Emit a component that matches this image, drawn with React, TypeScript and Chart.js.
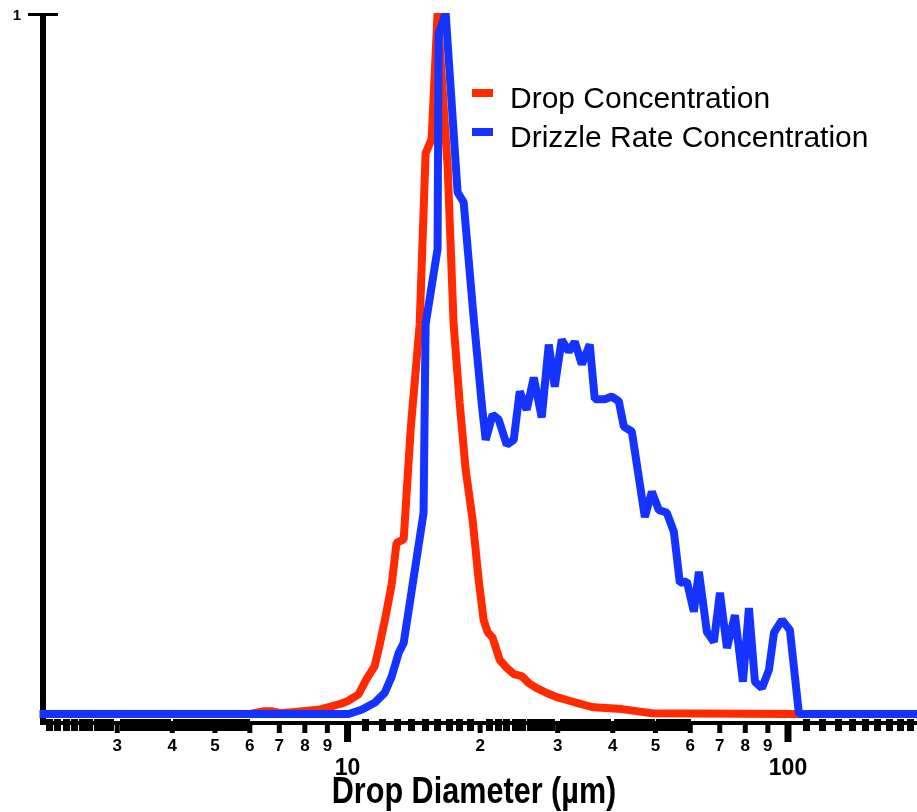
import React, { useEffect, useRef } from 'react';
import { Chart, registerables } from 'chart.js';

Chart.register(...registerables);

// ---- Data ----
const dropDiameter = [2.0, 6.0, 6.48, 6.72, 7.08, 7.58, 8.59, 9.2, 9.69, 10.05, 10.59, 11.05, 11.52, 11.82, 12.2, 12.59, 12.92, 13.41, 13.91, 14.58, 15.04, 15.52, 16.01, 16.88, 17.41, 17.97, 18.54, 19.23, 19.85, 20.37, 20.8, 21.35, 22.16, 22.98, 23.84, 24.86, 25.79, 26.89, 28.34, 29.85, 31.47, 33.15, 35.85, 37.78, 41.95, 46.58, 49.08, 102, 200];
const dropConcentration = [0, 0, 0.004, 0.004, 0.001, 0.003, 0.006, 0.011, 0.015, 0.019, 0.028, 0.05, 0.068, 0.098, 0.139, 0.184, 0.244, 0.249, 0.406, 0.556, 0.8, 0.82, 1.0, 0.78, 0.557, 0.444, 0.349, 0.277, 0.191, 0.134, 0.117, 0.109, 0.077, 0.066, 0.057, 0.054, 0.044, 0.037, 0.03, 0.024, 0.02, 0.016, 0.01, 0.009, 0.007, 0.003, 0.001, 0, 0];

const drizzleDiameter = [2.0, 10.05, 10.76, 11.52, 12.14, 12.59, 13.06, 13.41, 14.88, 15.04, 16.01, 16.1, 16.7, 17.78, 18.35, 19.35, 20.16, 20.59, 21.35, 22.04, 22.98, 23.84, 24.6, 25.52, 26.47, 27.6, 28.63, 29.54, 30.64, 31.79, 32.81, 34.03, 35.48, 36.42, 38.38, 39.81, 41.3, 42.4, 44.21, 47.32, 49.08, 50.91, 53.09, 55.07, 56.82, 58.94, 61.14, 62.76, 65.45, 67.89, 70.07, 72.68, 75.78, 79.02, 81.53, 84.14, 87.28, 90.53, 92.94, 96.91, 101.0, 105.9, 200];
const drizzleConcentration = [0, 0, 0.006, 0.016, 0.03, 0.053, 0.087, 0.101, 0.287, 0.556, 0.663, 0.97, 1.0, 0.744, 0.73, 0.563, 0.444, 0.391, 0.427, 0.42, 0.384, 0.391, 0.46, 0.434, 0.48, 0.423, 0.527, 0.467, 0.534, 0.517, 0.531, 0.499, 0.527, 0.449, 0.449, 0.453, 0.446, 0.41, 0.403, 0.281, 0.317, 0.291, 0.287, 0.26, 0.187, 0.189, 0.146, 0.203, 0.117, 0.103, 0.173, 0.094, 0.141, 0.046, 0.151, 0.046, 0.037, 0.063, 0.116, 0.134, 0.12, 0, 0];

const seriesNames = ['Drop Concentration', 'Drizzle Rate Concentration'];
const seriesColors = ['#ff2a00', '#1433ff'];
const xAxisTitle = 'Drop Diameter (µm)';

// ---- Axis ticks ----
const labelTickValues = [3, 4, 5, 6, 7, 8, 9, 10, 20, 30, 40, 50, 60, 70, 80, 90, 100];
const labelTickText = ['3', '4', '5', '6', '7', '8', '9', '10', '2', '3', '4', '5', '6', '7', '8', '9', '100'];
const majorTickValues = [10, 100];
const minorDecades = [1, 10, 100];
const minorMantissas = [1.1, 1.2, 1.3, 1.4, 1.5, 1.6, 1.7, 1.8, 1.9, 2.1, 2.2, 2.3, 2.4, 2.5, 2.6, 2.7, 2.8, 2.9, 3.1, 3.2, 3.3, 3.4, 3.5, 3.6, 3.7, 3.8, 3.9, 4.1, 4.2, 4.3, 4.4, 4.5, 4.6, 4.7, 4.8, 4.9, 5.1, 5.2, 5.3, 5.4, 5.5, 5.6, 5.7, 5.8, 5.9];
const yTickValues = [1];
const yTickText = ['1'];

const xMin = 2.035;
const xMax = 196.3;
const yMin = -0.0114;
const yMax = 1;

const SANS = '"Liberation Sans", Arial, sans-serif';

const axesPlugin = {
  id: 'prismAxes',
  beforeDatasetsDraw(chart: any) {
    const { ctx, chartArea } = chart;
    const xs = chart.scales.x;
    const L = chartArea.left;
    const R = chartArea.right;
    const T = chartArea.top;
    const B = chartArea.bottom;
    ctx.save();
    ctx.fillStyle = '#000';
    // y axis
    ctx.fillRect(L - 3, T, 6, B + 3 - T);
    ctx.fillRect(L - 15, T, 30, 3);
    // x axis line
    ctx.fillRect(L - 3, B - 1, R - L + 3, 4);
    // minor ticks
    minorDecades.forEach((d) => {
      minorMantissas.forEach((m) => {
        const v = d * m;
        if (v < xMin || v > xMax) return;
        const p = xs.getPixelForValue(v);
        ctx.fillRect(Math.round(p - 3.5), B - 3, 7, 12);
      });
    });
    labelTickValues.forEach((v) => {
      const p = xs.getPixelForValue(v);
      if (majorTickValues.includes(v)) ctx.fillRect(p - 3.5, B, 7, 20);
      else ctx.fillRect(p - 2.5, B, 5, 11);
    });
    ctx.restore();
  },
  afterDraw(chart: any) {
    const { ctx, chartArea } = chart;
    // x axis title (condensed bold)
    ctx.save();
    ctx.fillStyle = '#000';
    ctx.font = 'bold 36px ' + SANS;
    ctx.textAlign = 'center';
    ctx.textBaseline = 'alphabetic';
    const cx = (chartArea.left + chartArea.right) / 2 - 6;
    ctx.translate(cx, 803);
    ctx.scale(0.85, 1);
    ctx.fillText(xAxisTitle, 0, 0);
    ctx.restore();
  },
};

const legendPlugin = {
  id: 'insetLegend',
  afterDatasetsDraw(chart: any) {
    const { ctx } = chart;
    ctx.save();
    seriesNames.forEach((name, i) => {
      const rowY = 93 + i * 39;
      ctx.fillStyle = seriesColors[i];
      ctx.fillRect(472, rowY - 4, 21, 8);
      ctx.fillStyle = '#000';
      ctx.font = '30px ' + SANS;
      ctx.textBaseline = 'alphabetic';
      ctx.textAlign = 'left';
      ctx.fillText(name, 510, rowY + 15);
    });
    ctx.restore();
  },
};

export default function App() {
  const canvasRef = useRef<HTMLCanvasElement | null>(null);

  useEffect(() => {
    const canvas = canvasRef.current;
    if (!canvas) return;
    const drop = dropDiameter.map((x, i) => ({ x, y: dropConcentration[i] }));
    const drizzle = drizzleDiameter.map((x, i) => ({ x, y: drizzleConcentration[i] }));
    const clip = { left: 4, top: 0, right: 0, bottom: 10 };
    const chart = new Chart(canvas, {
      type: 'line',
      data: {
        datasets: [
          {
            label: seriesNames[0],
            data: drop,
            borderColor: seriesColors[0],
            backgroundColor: seriesColors[0],
            order: 1,
            clip,
          } as any,
          {
            label: seriesNames[1],
            data: drizzle,
            borderColor: seriesColors[1],
            backgroundColor: seriesColors[1],
            order: 0,
            clip,
          } as any,
        ],
      },
      options: {
        animation: false,
        responsive: false,
        maintainAspectRatio: false,
        devicePixelRatio: 1,
        layout: { padding: { top: 13, left: 0, right: 0, bottom: 0 } },
        plugins: { legend: { display: false }, tooltip: { enabled: false } },
        elements: {
          point: { radius: 0, hoverRadius: 0 },
          line: { borderWidth: 8, tension: 0, borderJoinStyle: 'bevel', borderCapStyle: 'butt', fill: false },
        },
        scales: {
          x: {
            type: 'logarithmic',
            min: xMin,
            max: xMax,
            afterFit: (s: any) => {
              s.height = 90;
              s.paddingLeft = 0;
              s.paddingRight = 0;
            },
            afterBuildTicks: (s: any) => {
              s.ticks = labelTickValues.map((v) => ({ value: v }));
            },
            grid: { display: false, drawTicks: false },
            border: { display: false },
            ticks: {
              autoSkip: false,
              maxRotation: 0,
              minRotation: 0,
              padding: 14,
              color: '#000',
              font: (c: any) => {
                const v = c.tick ? c.tick.value : 0;
                return majorTickValues.includes(v)
                  ? { family: SANS, size: 23, weight: 'bold', lineHeight: 0.95 }
                  : { family: SANS, size: 17, weight: 'bold', lineHeight: 1.2 };
              },
              callback: (value: any, index: number) => {
                const t = labelTickText[index];
                return majorTickValues.includes(labelTickValues[index]) ? ['', t] : t;
              },
            },
            title: { display: false },
          } as any,
          y: {
            type: 'linear',
            min: yMin,
            max: yMax,
            afterFit: (s: any) => {
              s.width = 43;
              s.paddingTop = 0;
              s.paddingBottom = 0;
            },
            afterBuildTicks: (s: any) => {
              s.ticks = yTickValues.map((v) => ({ value: v }));
            },
            grid: { display: false, drawTicks: false },
            border: { display: false },
            ticks: {
              padding: 22,
              labelOffset: 3,
              color: '#000',
              font: { family: SANS, size: 15, weight: 'bold' },
              callback: (value: any, index: number) => yTickText[index],
            },
          } as any,
        },
      },
      plugins: [axesPlugin, legendPlugin],
    });
    return () => chart.destroy();
  }, []);

  return (
    <div style={{ position: 'fixed', left: 0, top: 0, width: 917, height: 812, background: '#fff' }}>
      <canvas ref={canvasRef} width={917} height={812} style={{ display: 'block', width: 917, height: 812 }} />
    </div>
  );
}
